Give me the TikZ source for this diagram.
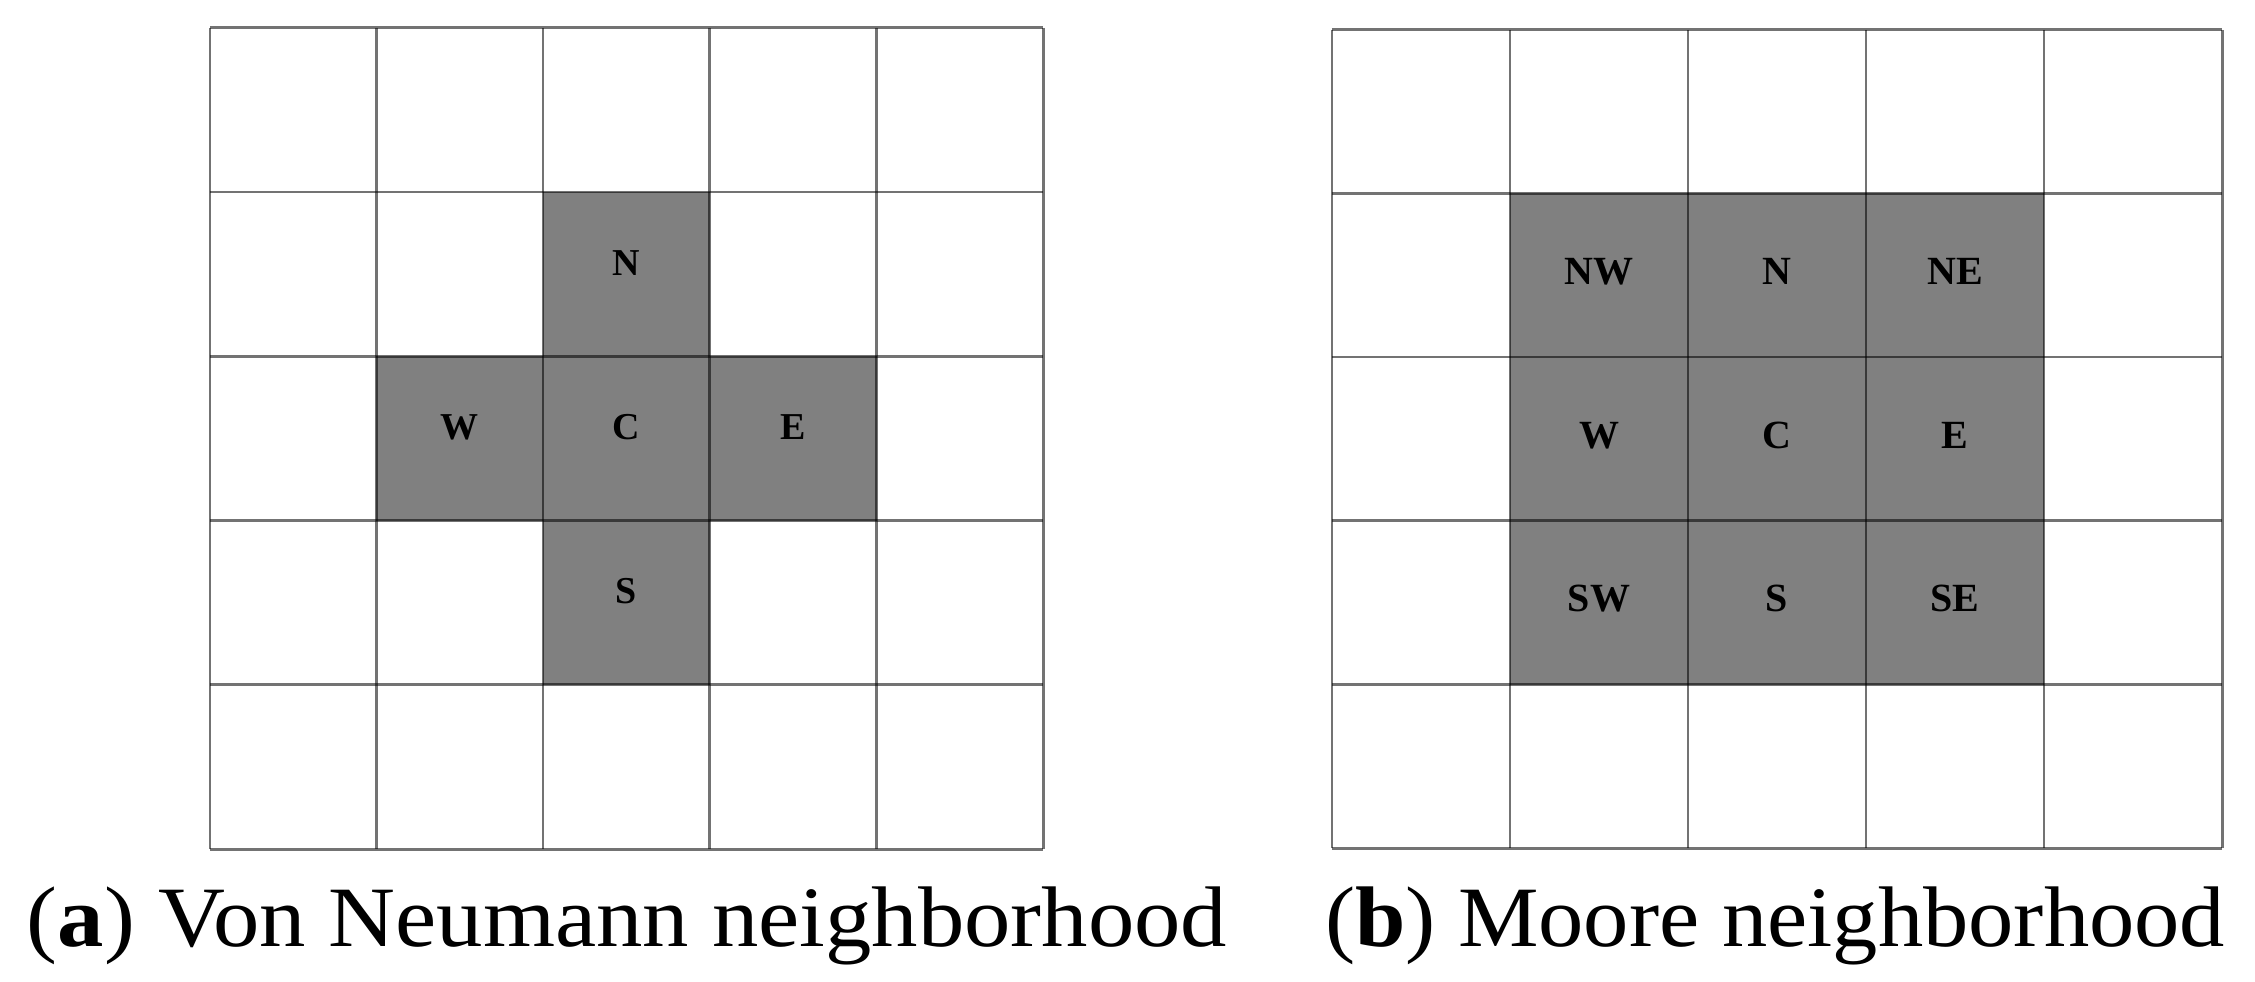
\documentclass[tikz,border=0pt]{standalone}
\usepackage{fontspec}
\setmainfont{Liberation Serif}
\usepackage{graphicx}
\tikzset{
  cellA/.style={minimum width=166.6pt, minimum height=164.2pt, inner sep=0pt, draw=none},
  cellB/.style={minimum width=178pt, minimum height=163.6pt, inner sep=0pt, draw=none},
  shade/.style={fill=black!50},
  gridline/.style={draw=black, draw opacity=0.55, line width=2.6pt},
  labA/.style={anchor=base, inner sep=0pt, yshift=-1pt, font=\fontsize{38}{38}\selectfont\bfseries},
  labB/.style={anchor=base, inner sep=0pt, yshift=-9pt, font=\fontsize{40}{40}\selectfont\bfseries},
  capt/.style={anchor=base, inner sep=0pt, font=\fontsize{86}{100}\selectfont}
}
\begin{document}
\begin{tikzpicture}[x=1pt,y=-1pt]
\useasboundingbox (0,0) rectangle (2255,982);
% left grid cells
\foreach \i in {0,...,4}{
  \foreach \j in {0,...,4}{
    \node[cellA] (a\i\j) at ({210+166.6*\i+83.3},{28+164.2*\j+82.1}) {};
  }
}
% right grid cells
\foreach \i in {0,...,4}{
  \foreach \j in {0,...,4}{
    \node[cellB] (b\i\j) at ({1332+178*\i+89},{30+163.6*\j+81.8}) {};
  }
}
% shading, von Neumann
\foreach \c in {a21,a12,a22,a32,a23}{
  \fill[shade] (\c.north west) rectangle (\c.south east);
}
% shading, Moore
\foreach \c in {b11,b21,b31,b12,b22,b32,b13,b23,b33}{
  \fill[shade] (\c.north west) rectangle (\c.south east);
}
% grid lines, left
\foreach \i in {0,...,4}{
  \draw[gridline] (a\i0.north west) -- (a\i4.south west);
  \draw[gridline] (a0\i.north west) -- (a4\i.north east);
}
\draw[gridline] (a40.north east) -- (a44.south east);
\draw[gridline] (a04.south west) -- (a44.south east);
% grid lines, right
\foreach \i in {0,...,4}{
  \draw[gridline] (b\i0.north west) -- (b\i4.south west);
  \draw[gridline] (b0\i.north west) -- (b4\i.north east);
}
\draw[gridline] (b40.north east) -- (b44.south east);
\draw[gridline] (b04.south west) -- (b44.south east);
% labels, von Neumann
\node[labA] (lN) at (a21.center) {N};
\node[labA] (lW) at (a12.center) {W};
\node[labA] (lC) at (a22.center) {C};
\node[labA] (lE) at (a32.center) {E};
\node[labA] (lS) at (a23.center) {S};
% labels, Moore
\node[labB] (mNW) at (b11.center) {NW};
\node[labB] (mN) at (b21.center) {N};
\node[labB] (mNE) at (b31.center) {NE};
\node[labB] (mW) at (b12.center) {W};
\node[labB] (mC) at (b22.center) {C};
\node[labB] (mE) at (b32.center) {E};
\node[labB] (mSW) at (b13.center) {SW};
\node[labB] (mS) at (b23.center) {S};
\node[labB] (mSE) at (b33.center) {SE};
% captions
\node[capt] (ca) at (627,946) {\resizebox{1200pt}{\height}{(\textbf{a}) Von Neumann neighborhood}};
\node[capt] (cb) at (1775,946) {\resizebox{900pt}{\height}{(\textbf{b}) Moore neighborhood}};
\end{tikzpicture}
\end{document}
